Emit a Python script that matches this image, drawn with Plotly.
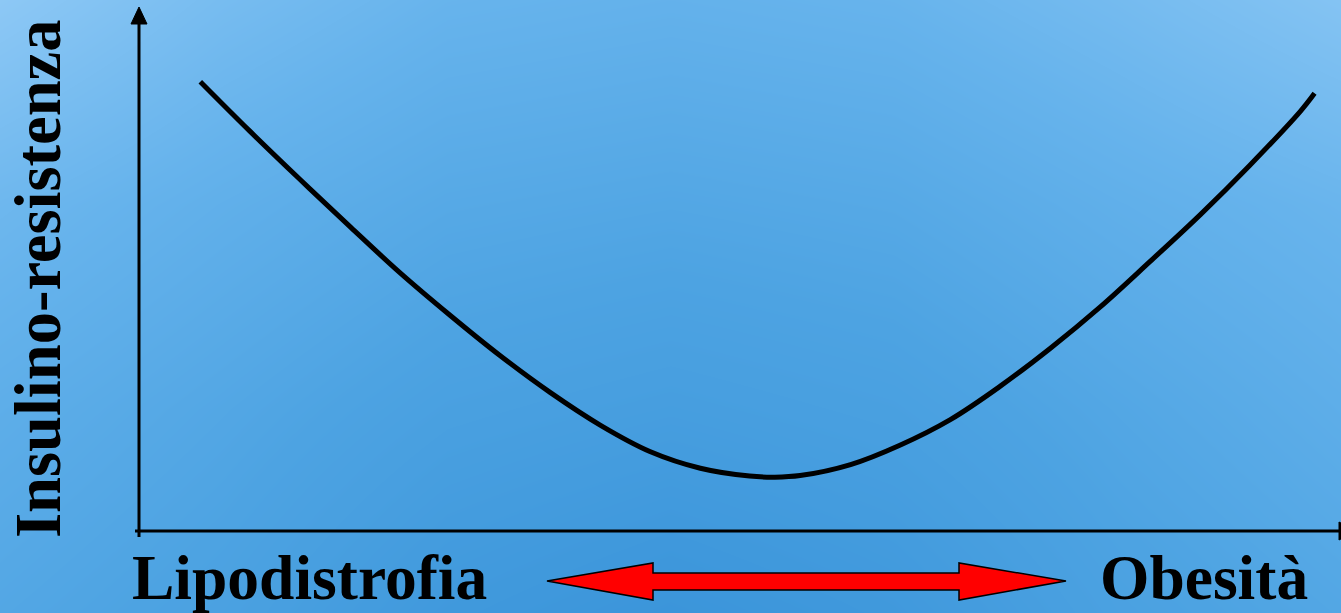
import plotly.graph_objects as go

W, H = 1341, 613

# Curve data (conceptual units: adiposity 0-100, insulin resistance 0-100)
adiposita = [5.1, 9.2, 13.4, 17.6, 21.7, 25.9, 30.0, 34.2, 38.4, 42.5, 46.7, 50.8, 52.9,
             55.0, 59.2, 63.3, 67.5, 71.6, 75.8, 80.0, 84.1, 88.3, 92.4, 96.6, 97.8]
insulino_resistenza = [85.9, 76.5, 67.2, 58.1, 49.4, 41.2, 33.6, 26.5, 20.2, 15.2, 12.0, 10.5, 10.3,
                       10.6, 12.7, 16.4, 21.3, 27.6, 34.9, 42.9, 51.5, 60.5, 69.9, 80.2, 83.7]

label_left = "Lipodistrofia"
label_right = "Obesità"
label_y = "Insulino-resistenza"

# Background gradient grid (styling only), row 0 = bottom
bg_z = [
    [0.42, 0.30, 0.10, 0.00, 0.10, 0.30, 0.42],
    [0.55, 0.42, 0.28, 0.22, 0.28, 0.42, 0.55],
    [0.72, 0.58, 0.46, 0.42, 0.46, 0.58, 0.68],
    [1.00, 0.80, 0.66, 0.62, 0.66, 0.78, 0.92],
]
bg_scale = [[0.0, "#3b95da"], [0.35, "#4da3e2"], [0.65, "#66b3ec"], [1.0, "#8dc8f5"]]


def px(x):
    return x / W


def py(y):
    return 1 - y / H


fig = go.Figure()

fig.add_trace(go.Heatmap(
    z=bg_z, colorscale=bg_scale, zmin=0, zmax=1, zsmooth="best",
    showscale=False, hoverinfo="skip", xaxis="x", yaxis="y",
))

fig.add_trace(go.Scatter(
    x=adiposita, y=insulino_resistenza, mode="lines",
    line=dict(color="black", width=5, shape="spline", smoothing=1.0),
    xaxis="x2", yaxis="y2", hoverinfo="skip", showlegend=False,
))

ox, oy = 139, 531

fig.update_layout(
    width=W, height=H,
    margin=dict(l=0, r=0, t=0, b=0),
    paper_bgcolor="#4da3e2",
    plot_bgcolor="rgba(0,0,0,0)",
    showlegend=False,
    xaxis=dict(domain=[0, 1], range=[0, 6], visible=False, fixedrange=True),
    yaxis=dict(domain=[0, 1], range=[0, 3], visible=False, fixedrange=True),
    xaxis2=dict(domain=[px(ox), 1], range=[0, 100], visible=False, anchor="y2"),
    yaxis2=dict(domain=[py(oy), py(8)], range=[0, 100], visible=False, anchor="x2"),
)

shapes = []
# y axis line
shapes.append(dict(type="line", xref="paper", yref="paper",
                   x0=px(ox), y0=py(537), x1=px(ox), y1=py(20),
                   line=dict(color="black", width=3)))
# y axis arrowhead
shapes.append(dict(type="path", xref="paper", yref="paper",
                   path=f"M {px(ox)} {py(7)} L {px(ox-8)} {py(24)} L {px(ox+8)} {py(24)} Z",
                   fillcolor="black", line=dict(color="black", width=1)))
# x axis line
shapes.append(dict(type="line", xref="paper", yref="paper",
                   x0=px(135), y0=py(oy), x1=px(1341), y1=py(oy),
                   line=dict(color="black", width=3)))
# x axis arrowhead (clipped at right edge)
shapes.append(dict(type="path", xref="paper", yref="paper",
                   path=f"M {px(1339)} {py(522)} L {px(1356)} {py(oy)} L {px(1339)} {py(540)} Z",
                   fillcolor="black", line=dict(color="black", width=1)))
# red double arrow
pts = [(547, 581), (653, 563), (653, 573), (959, 573), (959, 563), (1066, 581),
       (959, 600), (959, 590), (653, 590), (653, 600)]
path = "M " + " L ".join(f"{px(a)} {py(b)}" for a, b in pts) + " Z"
shapes.append(dict(type="path", xref="paper", yref="paper", path=path,
                   fillcolor="#ff0000", line=dict(color="black", width=1.5)))
fig.update_layout(shapes=shapes)

font = dict(family="Liberation Serif, Times New Roman, serif", size=63.5, color="black")
fig.add_annotation(text=f"<b>{label_left}</b>", xref="paper", yref="paper",
                   x=px(130), y=py(577), xanchor="left", yanchor="middle",
                   showarrow=False, font=font)
fig.add_annotation(text=f"<b>{label_right}</b>", xref="paper", yref="paper",
                   x=px(1098), y=py(577), xanchor="left", yanchor="middle",
                   showarrow=False, font=font)
fig.add_annotation(text=f"<b>{label_y}</b>", xref="paper", yref="paper",
                   x=px(38), y=py(279), xanchor="center", yanchor="middle",
                   textangle=-90, showarrow=False,
                   font=dict(family="Liberation Serif, Times New Roman, serif", size=64.5, color="black"))

fig.write_html(
    "out.html",
    config={"displayModeBar": False},
    post_script="document.body.style.margin='0';document.body.style.padding='0';document.body.style.overflow='hidden';",
)
